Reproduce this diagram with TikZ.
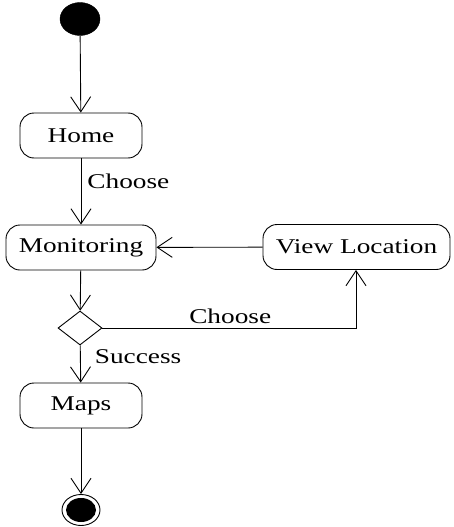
\documentclass[tikz,border=0pt]{standalone}
\usepackage{fontspec}
\setmainfont{Liberation Serif}[FakeStretch=1.3]
\usetikzlibrary{arrows.meta,shapes.geometric}
\begin{document}
\begin{tikzpicture}[x=1pt,y=-1pt,
  act/.style={draw,line width=0.9pt,rounded corners=14pt,minimum height=45pt,inner sep=0pt,font=\fontsize{21}{24}\selectfont},
  lbl/.style={inner sep=0pt,font=\fontsize{21}{24}\selectfont},
  flow/.style={line width=0.9pt,-{Straight Barb[length=15pt,width=20pt,line width=0.9pt]}},
  every node/.style={text=black}]
\useasboundingbox (0,0) rectangle (453,527);
\node[draw,fill=black,ellipse,minimum width=40pt,minimum height=33pt,inner sep=0pt] (start) at (80,19) {};
\node[act,minimum width=122pt] (home) at (81,135.5) {Home};
\node[act,minimum width=150pt] (mon) at (81,247.5) {Monitoring};
\node[act,minimum width=187pt] (view) at (356.5,247) {View Location};
\node[draw,diamond,aspect=1.3,minimum width=44pt,minimum height=34pt,inner sep=0pt,line width=0.9pt] (dec) at (80,328) {};
\node[act,minimum width=122pt] (maps) at (81,405.5) {Maps};
\node[draw,ellipse,minimum width=38pt,minimum height=31pt,inner sep=0pt,line width=0.9pt] (end) at (81,510) {};
\node[fill=black,ellipse,minimum width=30pt,minimum height=24pt,inner sep=0pt] (endin) at (81,510) {};
\coordinate (corner) at (356,328);
\draw[flow] (start) -- (home);
\draw[flow] (home) -- node[lbl,anchor=west,xshift=6pt,yshift=10pt] {Choose} (mon);
\draw[flow] (view) -- (mon);
\draw[flow] (mon) -- (dec);
\draw[flow] (dec.east) -- node[lbl,above=4pt,xshift=1pt] {Choose} (corner) -- (view.south -| corner);
\draw[flow] (dec) -- node[lbl,anchor=west,xshift=14pt,yshift=7pt] {Success} (maps);
\draw[flow] (maps) -- (end);
\end{tikzpicture}
\end{document}
